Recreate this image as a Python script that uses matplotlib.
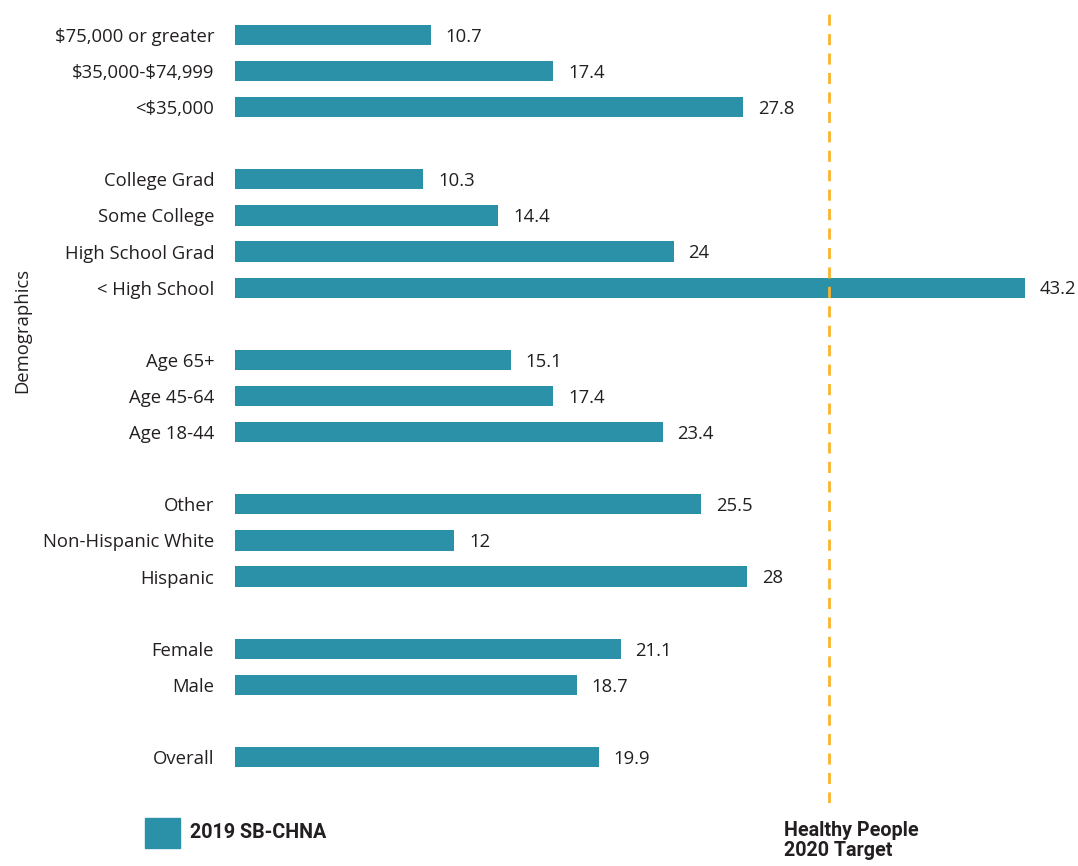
import matplotlib.pyplot as plt
from matplotlib.patches import Rectangle

# Data (top to bottom)
categories = ['\\$75,000 or greater', '\\$35,000-\\$74,999', '<\\$35,000',
              'College Grad', 'Some College', 'High School Grad', '< High School',
              'Age 65+', 'Age 45-64', 'Age 18-44',
              'Other', 'Non-Hispanic White', 'Hispanic',
              'Female', 'Male',
              'Overall']
values = [10.7, 17.4, 27.8,
          10.3, 14.4, 24, 43.2,
          15.1, 17.4, 23.4,
          25.5, 12, 28,
          21.1, 18.7,
          19.9]
value_labels = ['10.7', '17.4', '27.8', '10.3', '14.4', '24', '43.2',
                '15.1', '17.4', '23.4', '25.5', '12', '28', '21.1', '18.7', '19.9']
group_sizes = [3, 4, 3, 3, 2, 1]
target = 32.5

bar_color = '#2B91A9'
line_color = '#FBB42A'
text_color = '#231F20'

plt.rcParams['font.family'] = ['Open Sans', 'DejaVu Sans']

# slot positions with a blank row between groups
positions = []
slot = 0
for g in group_sizes:
    for i in range(g):
        positions.append(slot)
        slot += 1
    slot += 1

fig = plt.figure(figsize=(10.78, 8.66), dpi=100)
ax = fig.add_axes([235 / 1078, 63 / 866, 843 / 1078, 793 / 866])

ax.barh(positions, values, height=0.56, color=bar_color)
for p, v, lab in zip(positions, values, value_labels):
    ax.text(v + 0.8, p + 0.05, lab, va='center', ha='left', fontsize=13.3,
            color=text_color, clip_on=False)

ax.axvline(target, color=line_color, linestyle=(0, (4, 3)), linewidth=2)

ax.set_xlim(0, 843 / 18.29)
ax.set_ylim(21.27, -0.69)
ax.set_yticks(positions)
ax.set_yticklabels(categories, fontsize=13.3, color=text_color)
ax.tick_params(axis='y', length=0, pad=15)
ax.set_xticks([])
for s in ax.spines.values():
    s.set_visible(False)

fig.text(22 / 1078, 1 - 330 / 866, 'Demographics', rotation=90, va='center',
         ha='center', fontsize=13.3, color=text_color)

# legend-like annotations at the bottom
fig.patches.append(Rectangle((145 / 1078, 1 - 848 / 866), 35 / 1078, 30 / 866,
                             transform=fig.transFigure, color=bar_color))
bold_font = ['Roboto', 'DejaVu Sans']
fig.text(190 / 1078, 1 - 833 / 866, '2019 SB-CHNA', va='center', ha='left',
         fontsize=14.2, fontweight='bold', family=bold_font, color=text_color)
fig.text(784 / 1078, 1 - 821 / 866, 'Healthy People\n2020 Target', va='top',
         ha='left', fontsize=14.2, fontweight='bold', family=bold_font,
         color=text_color, linespacing=1.1)

fig.savefig('out.png', dpi=100)
